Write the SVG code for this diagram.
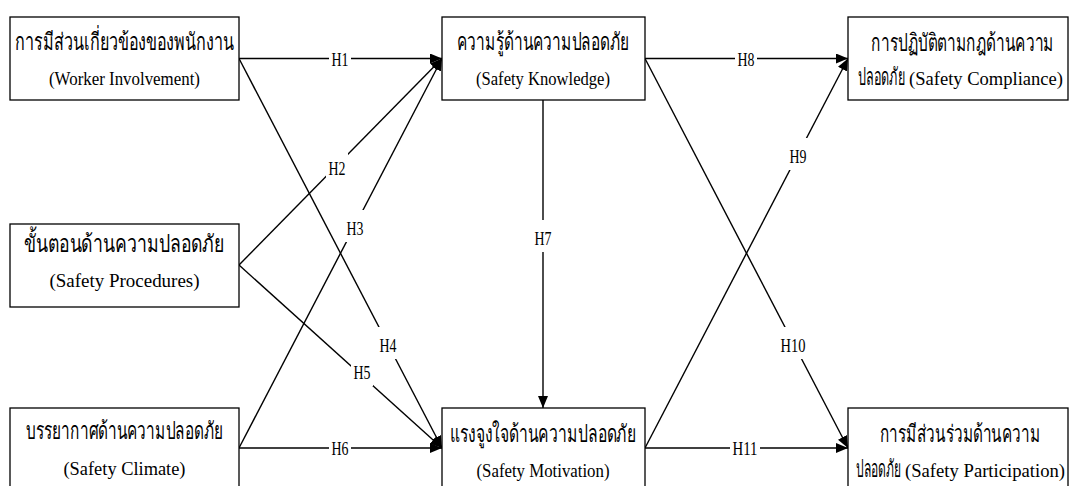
<svg xmlns="http://www.w3.org/2000/svg" width="1070" height="486" viewBox="0 0 1070 486">
  <style>
    .box { fill: #ffffff; stroke: #000000; stroke-width: 1.3; }
    .th { font-family: "Liberation Serif", "Noto Sans", serif; font-size: 24px; fill: #000; text-anchor: middle; }
    .ths { font-family: "Liberation Serif", "Noto Sans", serif; font-size: 24px; fill: #000; text-anchor: start; }
    .en { font-family: "Liberation Serif", serif; font-size: 19px; fill: #000; text-anchor: middle; }
    .ens { font-family: "Liberation Serif", serif; font-size: 19px; fill: #000; text-anchor: start; }
    .edge { stroke: #000000; stroke-width: 1.4; fill: none; }
    .lblbg { fill: #ffffff; stroke: none; }
    .lbl { font-family: "Liberation Serif", serif; font-size: 19px; fill: #000; text-anchor: middle; }
  </style>
  <defs>
    <marker id="arrow" markerUnits="userSpaceOnUse" markerWidth="12" markerHeight="10" refX="12" refY="5" orient="auto">
      <path d="M0,0 L12,5 L0,10 z" fill="#000000"/>
    </marker>
  </defs>

  <rect x="0" y="0" width="1070" height="486" fill="#ffffff"/>

  <!-- connectors -->
  <g id="connectors">
    <line class="edge" x1="239" y1="58.5" x2="442" y2="58.5" marker-end="url(#arrow)"/>
    <line class="edge" x1="239" y1="58.5" x2="442" y2="448" marker-end="url(#arrow)"/>
    <line class="edge" x1="239" y1="265" x2="442" y2="58.5" marker-end="url(#arrow)"/>
    <line class="edge" x1="239" y1="265" x2="442" y2="448" marker-end="url(#arrow)"/>
    <line class="edge" x1="239" y1="448" x2="442" y2="58.5" marker-end="url(#arrow)"/>
    <line class="edge" x1="239" y1="448" x2="442" y2="448" marker-end="url(#arrow)"/>
    <line class="edge" x1="543" y1="100" x2="543" y2="408" marker-end="url(#arrow)"/>
    <line class="edge" x1="645" y1="58.5" x2="848" y2="58.5" marker-end="url(#arrow)"/>
    <line class="edge" x1="645" y1="448" x2="848" y2="58.5" marker-end="url(#arrow)"/>
    <line class="edge" x1="645" y1="58.5" x2="848" y2="448" marker-end="url(#arrow)"/>
    <line class="edge" x1="645" y1="448" x2="848" y2="448" marker-end="url(#arrow)"/>

    <!-- path labels -->
    <g id="labels">
      <rect class="lblbg" x="329" y="40" width="22" height="32"/>
      <text class="lbl" x="340" y="65.5" textLength="17" lengthAdjust="spacingAndGlyphs">H1</text>
      <rect class="lblbg" x="326" y="150" width="22" height="32"/>
      <text class="lbl" x="337" y="174.5" textLength="17" lengthAdjust="spacingAndGlyphs">H2</text>
      <rect class="lblbg" x="344" y="210" width="22" height="32"/>
      <text class="lbl" x="355" y="234.5" textLength="17" lengthAdjust="spacingAndGlyphs">H3</text>
      <rect class="lblbg" x="377" y="327" width="22" height="32"/>
      <text class="lbl" x="388" y="351.5" textLength="17" lengthAdjust="spacingAndGlyphs">H4</text>
      <rect class="lblbg" x="351" y="354" width="22" height="32"/>
      <text class="lbl" x="362" y="378.5" textLength="17" lengthAdjust="spacingAndGlyphs">H5</text>
      <rect class="lblbg" x="329" y="429" width="22" height="32"/>
      <text class="lbl" x="340" y="454.5" textLength="17" lengthAdjust="spacingAndGlyphs">H6</text>
      <rect class="lblbg" x="532" y="220" width="22" height="32"/>
      <text class="lbl" x="543" y="245" textLength="17" lengthAdjust="spacingAndGlyphs">H7</text>
      <rect class="lblbg" x="735" y="40" width="22" height="32"/>
      <text class="lbl" x="746" y="65.5" textLength="17" lengthAdjust="spacingAndGlyphs">H8</text>
      <rect class="lblbg" x="787" y="138" width="22" height="32"/>
      <text class="lbl" x="798" y="163" textLength="17" lengthAdjust="spacingAndGlyphs">H9</text>
      <rect class="lblbg" x="778" y="327" width="30" height="32"/>
      <text class="lbl" x="793" y="351.5" textLength="25" lengthAdjust="spacingAndGlyphs">H10</text>
      <rect class="lblbg" x="730" y="429" width="30" height="32"/>
      <text class="lbl" x="745" y="454.5" textLength="25" lengthAdjust="spacingAndGlyphs">H11</text>
    </g>
  </g>

  <!-- nodes; Thai lines are drawn narrow (scaled horizontally) -->
  <g id="worker-involvement">
    <rect class="box" x="10" y="17" width="229" height="83"/>
    <text class="th" transform="translate(124.5,50) scale(0.7,1)" textLength="313" lengthAdjust="spacingAndGlyphs">การมีส่วนเกี่ยวข้องของพนักงาน</text>
    <text class="en" x="124.5" y="85" textLength="151" lengthAdjust="spacingAndGlyphs">(Worker Involvement)</text>
  </g>

  <g id="safety-procedures">
    <rect class="box" x="10" y="224" width="229" height="83"/>
    <text class="th" transform="translate(124.5,252) scale(0.7,1)" textLength="286" lengthAdjust="spacingAndGlyphs">ขั้นตอนด้านความปลอดภัย</text>
    <text class="en" x="124.5" y="287" textLength="150" lengthAdjust="spacingAndGlyphs">(Safety Procedures)</text>
  </g>

  <g id="safety-climate">
    <rect class="box" x="10" y="408" width="229" height="83"/>
    <text class="th" transform="translate(124.5,439) scale(0.7,1)" textLength="281" lengthAdjust="spacingAndGlyphs">บรรยากาศด้านความปลอดภัย</text>
    <text class="en" x="124.5" y="475" textLength="122" lengthAdjust="spacingAndGlyphs">(Safety Climate)</text>
  </g>

  <g id="safety-knowledge">
    <rect class="box" x="442" y="17" width="203" height="83"/>
    <text class="th" transform="translate(543,50) scale(0.7,1)" textLength="246" lengthAdjust="spacingAndGlyphs">ความรู้ด้านความปลอดภัย</text>
    <text class="en" x="543" y="85" textLength="134" lengthAdjust="spacingAndGlyphs">(Safety Knowledge)</text>
  </g>

  <g id="safety-motivation">
    <rect class="box" x="442" y="408" width="203" height="83"/>
    <text class="th" transform="translate(543,441.5) scale(0.7,1)" textLength="266" lengthAdjust="spacingAndGlyphs">แรงจูงใจด้านความปลอดภัย</text>
    <text class="en" x="543" y="476.5" textLength="133" lengthAdjust="spacingAndGlyphs">(Safety Motivation)</text>
  </g>

  <g id="safety-compliance">
    <rect class="box" x="848" y="17" width="220" height="83"/>
    <text class="th" transform="translate(962.5,50.5) scale(0.7,1)" textLength="261" lengthAdjust="spacingAndGlyphs">การปฏิบัติตามกฎด้านความ</text>
    <text class="ths" transform="translate(858,85) scale(0.5,1)" textLength="94" lengthAdjust="spacingAndGlyphs">ปลอดภัย</text>
    <text class="ens" x="909" y="85" textLength="154" lengthAdjust="spacingAndGlyphs">(Safety Compliance)</text>
  </g>

  <g id="safety-participation">
    <rect class="box" x="848" y="408" width="220" height="83"/>
    <text class="th" transform="translate(960,441.5) scale(0.7,1)" textLength="229" lengthAdjust="spacingAndGlyphs">การมีส่วนร่วมด้านความ</text>
    <text class="ths" transform="translate(856,476.5) scale(0.5,1)" textLength="90" lengthAdjust="spacingAndGlyphs">ปลอดภัย</text>
    <text class="ens" x="905" y="476.5" textLength="160" lengthAdjust="spacingAndGlyphs">(Safety Participation)</text>
  </g>
</svg>
